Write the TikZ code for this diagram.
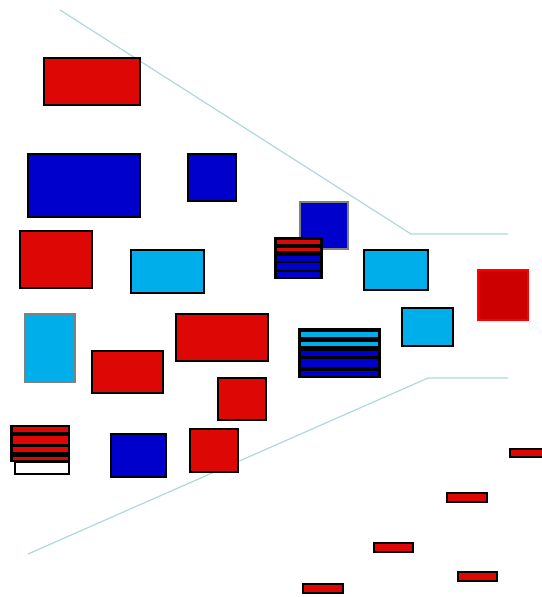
\documentclass[tikz,border=0pt]{standalone}
\definecolor{rd}{RGB}{221,8,6}
\definecolor{bl}{RGB}{0,0,204}
\definecolor{cy}{RGB}{0,174,234}
\definecolor{ln}{RGB}{176,216,220}
\definecolor{gr}{RGB}{128,128,128}
\begin{document}
\begin{tikzpicture}[x=1pt,y=-1pt,
  box/.style={draw=black,line width=2pt},
  gbox/.style={draw=gr,line width=2pt},
  guide/.style={draw=ln,line width=1.2pt},
  stripe/.style={line width=0pt}]
\useasboundingbox (0,0) rectangle (541,597);
% guide lines
\coordinate (u0) at (60,10); \coordinate (u1) at (411,234); \coordinate (u2) at (508,234);
\coordinate (l0) at (28,554); \coordinate (l1) at (428,378); \coordinate (l2) at (508,378);
\draw[guide] (u0) -- (u1) -- (u2);
\draw[guide] (l0) -- (l1) -- (l2);
% boxes
\draw[box,fill=rd] (44,58) rectangle (140,105);
\draw[box,fill=bl] (28,154) rectangle (140,217);
\draw[box,fill=bl] (188,154) rectangle (236,201);
\draw[gbox,fill=bl] (300,202) rectangle (348,249);
\draw[box,fill=rd] (20,231) rectangle (92,288);
\draw[box,fill=cy] (131,250) rectangle (204,293);
\draw[box,fill=cy] (364,250) rectangle (428,290);
\draw[draw={rgb,255:red,255;green,0;blue,0},line width=2pt,fill={rgb,255:red,204;green,0;blue,0}] (478,270) rectangle (528,320);
\draw[box,fill=cy] (402,308) rectangle (453,346);
\draw[gbox,fill=cy] (25,314) rectangle (75,382);
\draw[box,fill=rd] (176,314) rectangle (268,361);
\draw[box,fill=rd] (92,351) rectangle (163,393);
\draw[box,fill=rd] (218,378) rectangle (266,420);
\draw[box,fill=bl] (111,434) rectangle (166,477);
\draw[box,fill=rd] (190,429) rectangle (238,472);
% stacked box 1
\fill[black] (274,237) rectangle (323,279);
\fill[rd] (277,240) rectangle (320,244);
\fill[rd] (277,248) rectangle (320,251);
\fill[bl] (277,256) rectangle (320,261);
\fill[bl] (277,263) rectangle (320,270);
\fill[bl] (277,272) rectangle (320,277);
% stacked box 2
\fill[black] (298,328) rectangle (381,378);
\fill[cy] (301,332) rectangle (378,337);
\fill[cy] (301,342) rectangle (378,346);
\fill[bl] (301,351) rectangle (378,356);
\fill[bl] (301,359) rectangle (378,367);
\fill[bl] (301,371) rectangle (378,376);
% stacked box 3
\draw[box,fill=white] (15,462) rectangle (69,474);
\fill[black] (10,425) rectangle (70,462);
\fill[rd] (13,427) rectangle (68,432);
\fill[rd] (13,436) rectangle (68,444);
\fill[rd] (13,447) rectangle (68,452);
\fill[rd] (13,457) rectangle (68,460);
% small bars
\draw[box,fill=rd] (510,449) rectangle (545,457);
\draw[box,fill=rd] (447,493) rectangle (487,502);
\draw[box,fill=rd] (374,543) rectangle (413,552);
\draw[box,fill=rd] (458,572) rectangle (497,581);
\draw[box,fill=rd] (303,584) rectangle (343,593);
\end{tikzpicture}
\end{document}
